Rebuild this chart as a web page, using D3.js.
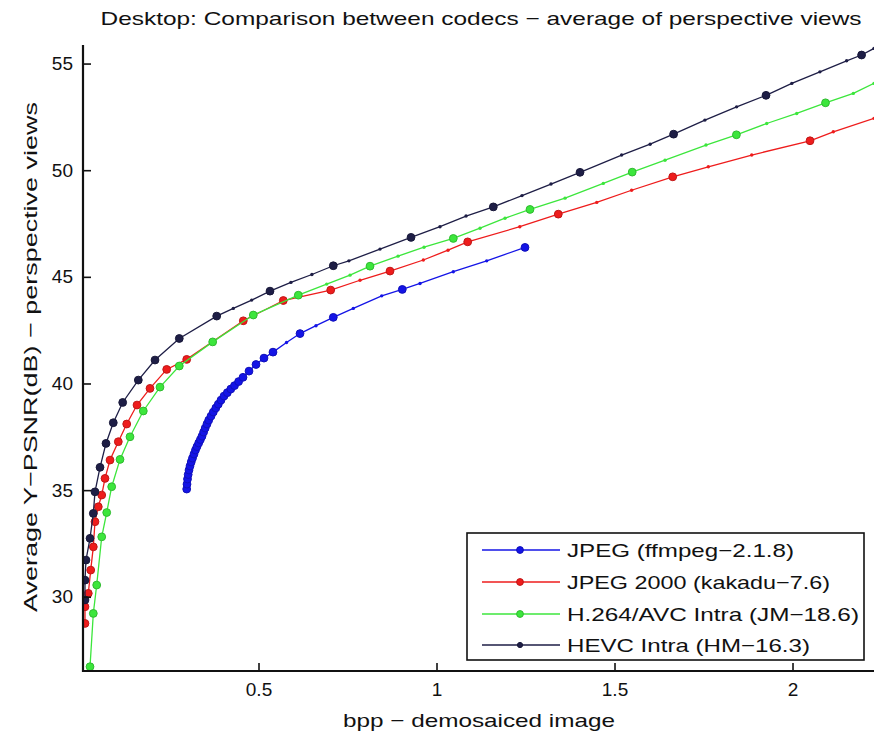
<!DOCTYPE html>
<html>
<head>
<meta charset="utf-8">
<script src="https://cdn.jsdelivr.net/npm/d3@7"></script>
<style>
  html, body { margin: 0; padding: 0; background: #fff; }
  svg { display: block; }
  text { font-family: "Liberation Sans", Arial, Helvetica, sans-serif; fill: #111; }
</style>
</head>
<body>
<svg id="chart" width="874" height="738"></svg>
<script>
// ---- Rate–distortion results (bpp vs. average Y-PSNR in dB) ----
// Large markers: main operating points; small markers: intermediate points.

const jpegBpp  = [0.2983, 0.2992, 0.3006, 0.3025, 0.3048, 0.3076, 0.3110, 0.3146, 0.3188, 0.3230,
                  0.3272, 0.3320, 0.3368, 0.3413, 0.3458, 0.3503, 0.3553, 0.3601, 0.3666, 0.3730,
                  0.3801, 0.3871, 0.3947, 0.4031, 0.4124, 0.4222, 0.4326, 0.4441, 0.4565, 0.4733,
                  0.4930, 0.5154, 0.5407, 0.6166, 0.7101, 0.9039, 1.2486];
const jpegPsnr = [35.05, 35.28, 35.52, 35.73, 35.94, 36.13, 36.32, 36.50, 36.69, 36.88,
                  37.04, 37.21, 37.37, 37.53, 37.72, 37.91, 38.10, 38.28, 38.47, 38.66,
                  38.85, 39.03, 39.22, 39.41, 39.57, 39.74, 39.90, 40.09, 40.29, 40.58,
                  40.89, 41.19, 41.47, 42.34, 43.10, 44.41, 46.38];
const jpegMinorBpp  = [0.5787, 0.6615, 0.7663, 0.8461, 0.9537, 1.0472, 1.1410];
const jpegMinorPsnr = [41.92, 42.71, 43.52, 44.11, 44.69, 45.24, 45.75];

const j2kBpp  = [0.0126, 0.0126, 0.0219, 0.0287, 0.0360, 0.0407, 0.0500, 0.0596, 0.0688, 0.0829,
                 0.1062, 0.1298, 0.1587, 0.1952, 0.2421, 0.2983, 0.4573, 0.5697, 0.7028, 0.8694,
                 1.0876, 1.3421, 1.6635, 2.0492];
const j2kPsnr = [28.75, 29.53, 30.16, 31.25, 32.34, 33.52, 34.22, 34.77, 35.55, 36.41,
                 37.27, 38.10, 38.99, 39.77, 40.66, 41.13, 42.94, 43.89, 44.38, 45.27,
                 46.64, 47.94, 49.69, 51.38];
const j2kMinorBpp  = [0.7851, 0.9630, 1.0323, 1.2340, 1.4500, 1.5480, 1.7635, 1.8854, 2.1146, 2.2289];
const j2kMinorPsnr = [44.84, 45.79, 46.25, 47.35, 48.49, 49.06, 50.16, 50.71, 51.80, 52.43];

const avcBpp  = [0.0267, 0.0360, 0.0455, 0.0596, 0.0736, 0.0876, 0.1110, 0.1390, 0.1764, 0.2233,
                 0.2775, 0.3713, 0.4854, 0.6118, 0.8132, 1.0472, 1.2626, 1.5497, 1.8424, 2.0927];
const avcPsnr = [26.72, 29.22, 30.55, 32.81, 33.95, 35.16, 36.44, 37.50, 38.71, 39.83,
                 40.82, 41.95, 43.21, 44.14, 45.50, 46.80, 48.16, 49.91, 51.66, 53.16];
const avcMinorBpp  = [0.6916, 0.7570, 0.8919, 0.9649, 1.1222, 1.1924, 1.3610, 1.4685, 1.6419, 1.7570,
                      1.9275, 2.0118, 2.1708, 2.2289];
const avcMinorPsnr = [44.66, 45.08, 45.97, 46.39, 47.28, 47.75, 48.69, 49.38, 50.47, 51.18,
                      52.19, 52.66, 53.60, 54.07];

const hevcBpp  = [0.0126, 0.0126, 0.0154, 0.0267, 0.0360, 0.0407, 0.0548, 0.0716, 0.0921, 0.1185,
                  0.1624, 0.2093, 0.2775, 0.3826, 0.5323, 0.7101, 0.9284, 1.1596, 1.4031, 1.6660,
                  1.9256, 2.1940];
const hevcPsnr = [29.85, 30.78, 31.72, 32.74, 33.91, 34.92, 36.07, 37.19, 38.16, 39.11,
                  40.16, 41.10, 42.11, 43.16, 44.33, 45.52, 46.85, 48.28, 49.90, 51.69,
                  53.51, 55.40];
const hevcMinorBpp  = [0.4292, 0.4809, 0.5910, 0.6500, 0.7540, 0.8413, 1.0098, 1.0830, 1.2402, 1.3216,
                       1.5200, 1.6000, 1.7540, 1.8430, 1.9980, 2.0770, 2.1520, 2.2289];
const hevcMinorPsnr = [43.52, 43.91, 44.74, 45.11, 45.75, 46.30, 47.35, 47.85, 48.81, 49.35,
                       50.71, 51.22, 52.35, 52.97, 54.07, 54.61, 55.13, 55.71];

const seriesNames  = ["JPEG (ffmpeg\u22122.1.8)", "JPEG 2000 (kakadu\u22127.6)",
                      "H.264/AVC Intra (JM\u221218.6)", "HEVC Intra (HM\u221216.3)"];
const seriesColors = ["#1414e6", "#ee1c1c", "#3ce63c", "#1e1e46"];

const xTicks = [0.5, 1, 1.5, 2];
const xTickLabels = ["0.5", "1", "1.5", "2"];
const yTicks = [30, 35, 40, 45, 50, 55];

const titleText  = "Desktop: Comparison between codecs \u2212 average of perspective views";
const xLabelText = "bpp \u2212 demosaiced image";
const yLabelText = "Average Y\u2212PSNR(dB) \u2212 perspective views";

// ---- layout ----
const W = 874, H = 738;
const plot = { left: 83, right: 874, top: 45, bottom: 671 };

const x = d3.scaleLinear().domain([0.00702, 2.2289]).range([plot.left, plot.right]);
const y = d3.scaleLinear().domain([26.52, 55.87]).range([plot.bottom, plot.top]);

const svg = d3.select("#chart");
svg.append("rect").attr("width", W).attr("height", H).attr("fill", "#fff");

// stretch a text element horizontally to a given width
function fitWidth(sel, width) {
  sel.attr("textLength", width).attr("lengthAdjust", "spacingAndGlyphs");
}

svg.append("defs").append("clipPath").attr("id", "plotClip")
  .append("rect")
  .attr("x", plot.left).attr("y", plot.top - 6)
  .attr("width", plot.right - plot.left + 4).attr("height", plot.bottom - plot.top + 6);

// build each codec's point list
function zipPts(bx, by, big) { return bx.map((v, i) => ({ bpp: v, psnr: by[i], big })); }
const series = [
  zipPts(jpegBpp, jpegPsnr, true).concat(zipPts(jpegMinorBpp, jpegMinorPsnr, false)),
  zipPts(j2kBpp, j2kPsnr, true).concat(zipPts(j2kMinorBpp, j2kMinorPsnr, false)),
  zipPts(avcBpp, avcPsnr, true).concat(zipPts(avcMinorBpp, avcMinorPsnr, false)),
  zipPts(hevcBpp, hevcPsnr, true).concat(zipPts(hevcMinorBpp, hevcMinorPsnr, false))
].map(pts => pts.sort((a, b) => a.psnr - b.psnr));

const line = d3.line().x(d => x(d.bpp)).y(d => y(d.psnr));

const gData = svg.append("g").attr("clip-path", "url(#plotClip)");
series.forEach((pts, i) => {
  const col = seriesColors[i];
  const edge = d3.color(col).darker(0.6);
  const g = gData.append("g");
  g.append("path").datum(pts)
    .attr("d", line).attr("fill", "none")
    .attr("stroke", col).attr("stroke-width", 1.3);
  g.selectAll("circle").data(pts).join("circle")
    .attr("cx", d => x(d.bpp)).attr("cy", d => y(d.psnr))
    .attr("r", d => d.big ? 3.9 : 1.7)
    .attr("fill", col)
    .attr("stroke", d => d.big ? edge : "none")
    .attr("stroke-width", 1);
});

// ---- axes (inward ticks, no box) ----
const xAxis = d3.axisBottom(x).tickValues(xTicks)
  .tickFormat((d, i) => xTickLabels[i]).tickSizeInner(-8).tickSizeOuter(0).tickPadding(14);
const gx = svg.append("g").attr("transform", `translate(0,${plot.bottom})`).call(xAxis);
gx.select(".domain").remove();
gx.selectAll(".tick line").attr("stroke", "#111").attr("stroke-width", 1.6);
gx.selectAll(".tick text").attr("font-size", 19).attr("fill", "#111")
  .attr("font-family", null).attr("dy", "0.71em").attr("y", 12);

const yAxis = d3.axisLeft(y).tickValues(yTicks)
  .tickSizeInner(-8).tickSizeOuter(0).tickPadding(10);
const gy = svg.append("g").attr("transform", `translate(${plot.left},0)`).call(yAxis);
gy.select(".domain").remove();
gy.selectAll(".tick line").attr("stroke", "#111").attr("stroke-width", 1.6);
gy.selectAll(".tick text").attr("font-size", 19).attr("fill", "#111").attr("font-family", null);

svg.append("line").attr("x1", plot.left).attr("x2", plot.left)
  .attr("y1", plot.top).attr("y2", plot.bottom + 1)
  .attr("stroke", "#111").attr("stroke-width", 2.2);
svg.append("line").attr("x1", plot.left - 1).attr("x2", plot.right)
  .attr("y1", plot.bottom).attr("y2", plot.bottom)
  .attr("stroke", "#111").attr("stroke-width", 2.2);

// ---- titles ----
svg.append("text").attr("x", 481).attr("y", 25).attr("text-anchor", "middle")
  .attr("font-size", 19).text(titleText).call(fitWidth, 761);
svg.append("text").attr("x", 479).attr("y", 727).attr("text-anchor", "middle")
  .attr("font-size", 19).text(xLabelText).call(fitWidth, 272);
svg.append("text").attr("transform", "translate(37,357) rotate(-90)")
  .attr("text-anchor", "middle").attr("font-size", 19).text(yLabelText).call(fitWidth, 510);

// ---- legend ----
const leg = { x: 467, y: 533, w: 397, h: 127 };
const gl = svg.append("g");
gl.append("rect").attr("x", leg.x).attr("y", leg.y).attr("width", leg.w).attr("height", leg.h)
  .attr("fill", "#fff").attr("stroke", "#111").attr("stroke-width", 1.6);
const rowY = [550, 582, 614, 645];
const legendWidths = [227, 263, 292, 243];
seriesNames.forEach((name, i) => {
  const col = seriesColors[i];
  gl.append("line").attr("x1", 482).attr("x2", 560).attr("y1", rowY[i]).attr("y2", rowY[i])
    .attr("stroke", col).attr("stroke-width", 1.4);
  gl.append("circle").attr("cx", 520).attr("cy", rowY[i]).attr("r", i === 3 ? 2.6 : 3.4)
    .attr("fill", col).attr("stroke", d3.color(col).darker(0.6)).attr("stroke-width", 1);
  gl.append("text").attr("x", 567).attr("y", rowY[i] + 7).attr("font-size", 19)
    .text(name).call(fitWidth, legendWidths[i]);
});
</script>
</body>
</html>
